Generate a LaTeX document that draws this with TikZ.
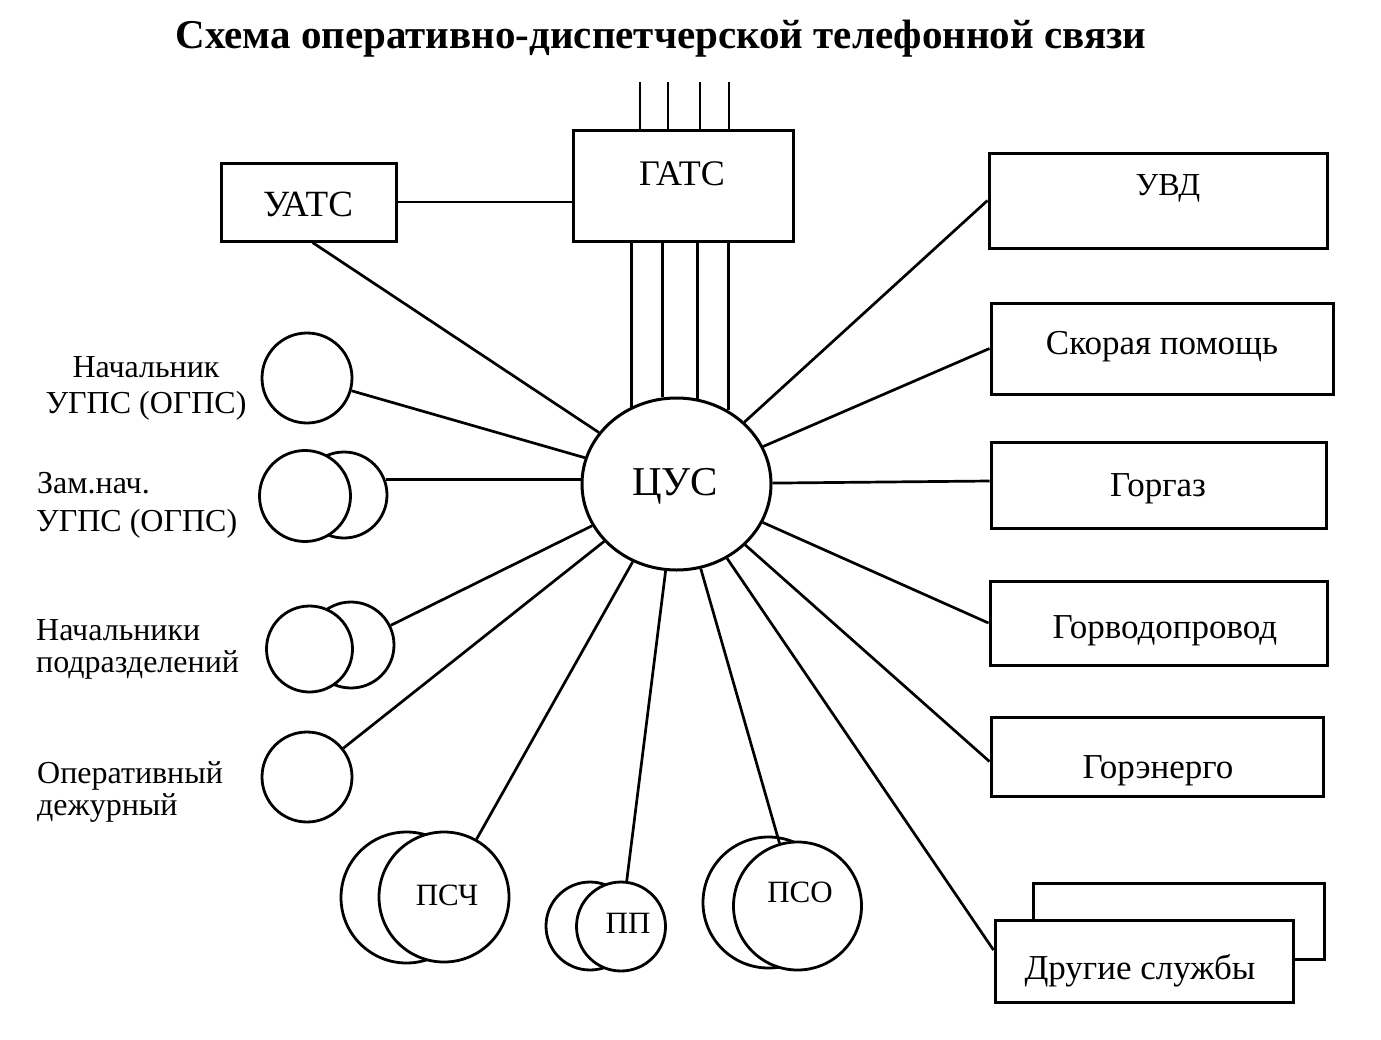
\documentclass[tikz,border=0pt]{standalone}
\usepackage{fontspec}
\setmainfont{Liberation Serif}
\usetikzlibrary{shapes.geometric,calc}
\begin{document}
\begin{tikzpicture}[x=1pt,y=-1pt,
  box/.style={draw,line width=3pt,rectangle,inner sep=0pt,fill=white},
  circ/.style={draw,line width=2.8pt,circle,inner sep=0pt,fill=white},
  lbl/.style={font=\fontsize{32}{37}\selectfont,inner sep=0pt},
  blbl/.style={font=\fontsize{35}{40}\selectfont,inner sep=0pt,anchor=base},
  clbl/.style={font=\fontsize{31}{36}\selectfont,inner sep=0pt,anchor=base},
  conn/.style={line width=2.7pt},
]
\useasboundingbox[fill=white] (0,0) rectangle (1381,1039);

% title
\node[font=\bfseries\fontsize{41}{45}\selectfont,inner sep=0pt,anchor=base] (title) at (661,48) {Схема оперативно-диспетчерской телефонной связи};

% boxes
\node[box,minimum width=175pt,minimum height=78pt] (uats) at (308.5,202) {};
\node[blbl,font=\fontsize{37}{42}\selectfont] (tuats) at (308,216) {УАТС};
\node[box,minimum width=220pt,minimum height=111pt] (gats) at (683,185.5) {};
\node[blbl,font=\fontsize{36}{41}\selectfont] (tgats) at (682,185) {ГАТС};

\node[box,minimum width=338pt,minimum height=95pt] (uvd) at (1158,200.5) {};
\node[blbl,font=\fontsize{32}{37}\selectfont] (tuvd) at (1168,195) {УВД};
\node[box,minimum width=342pt,minimum height=91pt] (skor) at (1162,348.5) {};
\node[blbl] (tskor) at (1162,354) {Скорая помощь};
\node[box,minimum width=335pt,minimum height=86pt] (gorgaz) at (1158.5,485) {};
\node[blbl] (tgorgaz) at (1158,496) {Горгаз};
\node[box,minimum width=337pt,minimum height=84pt] (gorvod) at (1158.5,623) {};
\node[blbl] (tgorvod) at (1165,638) {Горводопровод};
\node[box,minimum width=332pt,minimum height=79pt] (goren) at (1157,756.5) {};
\node[blbl] (tgoren) at (1158,778) {Горэнерго};
\node[box,minimum width=291pt,minimum height=76pt] (drugB) at (1178.5,921) {};
\node[box,minimum width=298pt,minimum height=82pt] (drug) at (1144,961) {};
\node[blbl] (tdrug) at (1140,979) {Другие службы};

% central node
\node[draw,ellipse,line width=3pt,minimum width=189pt,minimum height=172pt,inner sep=0pt,fill=white] (cus) at (676.5,484) {};
\node[font=\fontsize{41}{45}\selectfont,inner sep=0pt,anchor=base] (tcus) at (675,495) {ЦУС};

% left circles
\node[circ,minimum size=90pt] (nach) at (307,378) {};
\node[circ,minimum size=86pt] (zamB) at (344,495) {};
\node[circ,minimum size=91pt] (zamF) at (305,496) {};
\node[circ,minimum size=86pt] (podB) at (351,645) {};
\node[circ,minimum size=86pt] (podF) at (309.5,649) {};
\node[circ,minimum size=90pt] (oper) at (307,777) {};

% bottom circles
\node[circ,minimum size=131pt] (pschB) at (406.5,897.5) {};
\node[circ,minimum size=130pt] (pschF) at (444,897) {};
\node[clbl] (tpsch) at (447,905) {ПСЧ};
\node[circ,minimum size=88pt] (ppB) at (590,926) {};
\node[circ,minimum size=89pt] (ppF) at (621,926.5) {};
\node[clbl] (tpp) at (628,933) {ПП};
\node[circ,minimum size=131pt] (psoB) at (768.5,902.5) {};
\node[circ,minimum size=128pt] (psoF) at (797.5,906) {};
\node[clbl] (tpso) at (800,902) {ПСО};

% left labels
\node[lbl,anchor=base] (l1a) at (146,377) {Начальник};
\node[lbl,anchor=base] (l1b) at (146,413) {УГПС (ОГПС)};
\node[lbl,anchor=base west] (l2a) at (37,493) {Зам.нач.};
\node[lbl,anchor=base west] (l2b) at (36,531) {УГПС (ОГПС)};
\node[lbl,anchor=base west] (l3a) at (36,640) {Начальники};
\node[lbl,anchor=base west] (l3b) at (36,672) {подразделений};
\node[lbl,anchor=base west] (l4a) at (37,783) {Оперативный};
\node[lbl,anchor=base west] (l4b) at (37,815) {дежурный};

% free ends of trunk lines above ГАТС
\coordinate (t1) at (640,82);
\coordinate (t2) at (668,82);
\coordinate (t3) at (700,82);
\coordinate (t4) at (729,82);
\foreach \t in {t1,t2,t3,t4} \draw[conn] (\t |- gats.north) -- (\t);

% trunk lines ГАТС - ЦУС
\foreach \a in {120,99,76,55} \draw[conn] (cus.\a |- gats.south) -- (cus.\a);

% connectors
\draw[conn] (uats.east) -- (uats.east -| gats.west);
\draw[conn] ([xshift=4pt]uats.south) -- (cus);
\draw[conn] (cus) -- (uvd.west);
\draw[conn] (cus) -- (skor.west);
\draw[conn] (cus) -- ([yshift=4pt]gorgaz.west);
\draw[conn] (cus) -- (gorvod.west);
\draw[conn] (cus) -- ([yshift=-5pt]goren.west);
\draw[conn] (cus) -- ([yshift=11pt]drug.west);
\draw[conn] (nach) -- (cus);
\draw[conn] (zamB.20) -- (cus.west |- zamB.20);
\draw[conn] (podB) -- (cus);
\draw[conn] (oper) -- (cus);
\draw[conn] (pschF) -- (cus);
\draw[conn] (ppF) -- (cus);
\draw[conn] (psoF) -- (cus);
\end{tikzpicture}
\end{document}
